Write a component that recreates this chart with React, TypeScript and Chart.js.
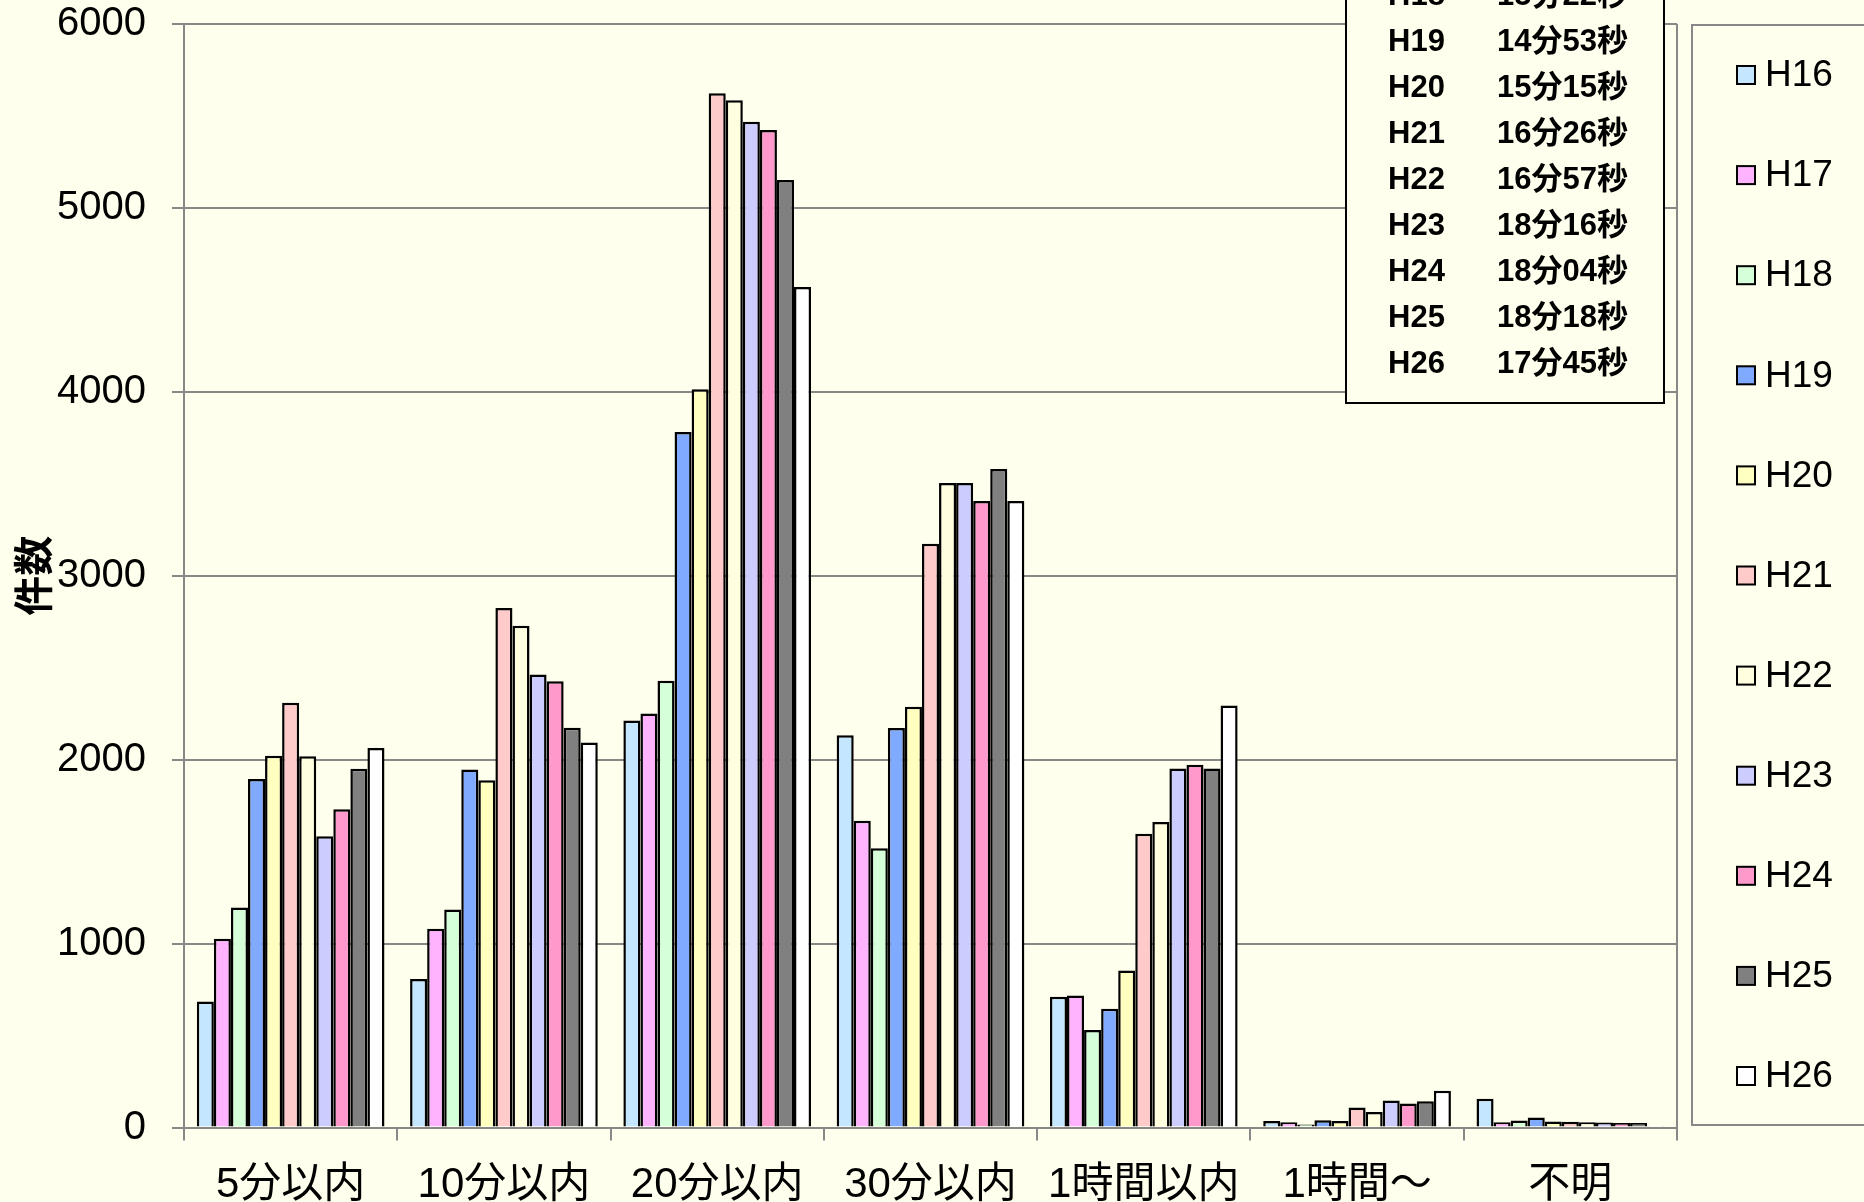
import React, { useEffect, useRef } from "react";
import { Chart, registerables } from "chart.js";

Chart.register(...registerables);

const categories = ["5分以内", "10分以内", "20分以内", "30分以内", "1時間以内", "1時間～", "不明"];

const seriesNames = ["H16", "H17", "H18", "H19", "H20", "H21", "H22", "H23", "H24", "H25", "H26"];
const seriesColors = ["#C4E6FF", "#FFB3FF", "#D4FFD8", "#80AAFF", "#FFFFC0", "#FFCACA", "#FFFFE0", "#CCCCFF", "#FF99CC", "#808080", "#FFFFFF"];

const h16 = [685, 807, 2213, 2133, 711, 36, 156];
const h17 = [1026, 1081, 2251, 1668, 718, 29, 29];
const h18 = [1196, 1185, 2429, 1519, 530, 16, 38];
const h19 = [1895, 1946, 3782, 2172, 646, 40, 54];
const h20 = [2021, 1888, 4014, 2288, 853, 36, 33];
const h21 = [2309, 2825, 5624, 3174, 1597, 109, 31];
const h22 = [2018, 2728, 5585, 3504, 1661, 84, 29];
const h23 = [1584, 2463, 5469, 3504, 1952, 147, 27];
const h24 = [1731, 2426, 5423, 3407, 1972, 131, 25];
const h25 = [1951, 2173, 5152, 3581, 1952, 143, 25];
const h26 = [2064, 2093, 4570, 3407, 2295, 200, 7];
const seriesValues = [h16, h17, h18, h19, h20, h21, h22, h23, h24, h25, h26];

const yTicks = [0, 1000, 2000, 3000, 4000, 5000, 6000];

const insetYears = ["H18", "H19", "H20", "H21", "H22", "H23", "H24", "H25", "H26"];
const insetTimes = ["15分22秒", "14分53秒", "15分15秒", "16分26秒", "16分57秒", "18分16秒", "18分04秒", "18分18秒", "17分45秒"];

const yTitle = "件数";

const BG = "#FFFFEE";
const GRID = "#888888";
const PLOT_TOP = 24;

export default function App() {
  const ref = useRef<HTMLCanvasElement | null>(null);

  useEffect(() => {
    if (!ref.current) return;
    const decor = {
      id: "decor",
      beforeDraw(chart: any) {
        const ctx = chart.ctx;
        ctx.save();
        ctx.fillStyle = BG;
        ctx.fillRect(0, 0, chart.width, chart.height);
        ctx.restore();
      },
      afterDraw(chart: any) {
        const ctx = chart.ctx;
        const a = chart.chartArea;
        ctx.save();
        ctx.strokeStyle = GRID;
        ctx.lineWidth = 2;
        ctx.beginPath();
        ctx.moveTo(a.right, a.top);
        ctx.lineTo(a.right, a.bottom);
        ctx.stroke();

        ctx.save();
        ctx.translate(33, (a.top + a.bottom) / 2);
        ctx.rotate(-Math.PI / 2);
        ctx.fillStyle = "#000";
        ctx.font = 'bold 40px "Noto Sans CJK JP"';
        ctx.textAlign = "center";
        ctx.textBaseline = "middle";
        ctx.fillText(yTitle, 0, 0);
        ctx.restore();

        const lx = 1692, ly = 25, lb = 1125;
        ctx.fillStyle = BG;
        ctx.fillRect(lx, ly, chart.width - lx + 10, lb - ly);
        ctx.strokeStyle = GRID;
        ctx.lineWidth = 2;
        ctx.strokeRect(lx, ly, chart.width - lx + 10, lb - ly);
        const ds = chart.data.datasets;
        for (let i = 0; i < ds.length; i++) {
          const cy = 75 + i * 100.1;
          ctx.fillStyle = ds[i].backgroundColor;
          ctx.fillRect(1737, cy - 9, 18, 18);
          ctx.strokeStyle = "#000";
          ctx.lineWidth = 2;
          ctx.strokeRect(1737, cy - 9, 18, 18);
          ctx.fillStyle = "#000";
          ctx.font = '37px "Liberation Sans", Arial';
          ctx.textAlign = "left";
          ctx.textBaseline = "middle";
          ctx.fillText(ds[i].label, 1765, cy + 1);
        }

        const bx = 1346, br = 1664, bb = 403;
        ctx.fillStyle = BG;
        ctx.fillRect(bx, -10, br - bx, bb + 10);
        ctx.strokeStyle = "#000";
        ctx.lineWidth = 2;
        ctx.strokeRect(bx, -10, br - bx, bb + 10);
        ctx.fillStyle = "#000";
        ctx.font = 'bold 31px "Liberation Sans", "Noto Sans CJK JP"';
        ctx.textBaseline = "middle";
        ctx.textAlign = "left";
        for (let i = 0; i < insetYears.length; i++) {
          const cy = -3.5 + i * 46;
          ctx.fillText(insetYears[i], 1388, cy);
          ctx.fillText(insetTimes[i], 1497, cy);
        }
        ctx.restore();
      },
    };

    const chart = new Chart(ref.current, {
      type: "bar",
      data: {
        labels: categories,
        datasets: seriesNames.map((n, i) => ({
          label: n,
          data: seriesValues[i],
          backgroundColor: seriesColors[i],
          borderColor: "#000000",
          borderWidth: 2.5,
          categoryPercentage: 0.88,
          barPercentage: 1.0,
        })),
      },
      options: {
        responsive: false,
        animation: false,
        devicePixelRatio: 1,
        layout: { padding: { left: 0, top: 0, right: 187, bottom: 0 } },
        plugins: { legend: { display: false }, tooltip: { enabled: false }, title: { display: false } },
        scales: {
          x: {
            grid: { drawOnChartArea: false, drawTicks: true, tickLength: 13, color: GRID, lineWidth: 2, offset: true },
            border: { display: true, color: GRID, width: 2 },
            ticks: {
              color: "#000",
              font: { size: 42, family: '"Liberation Sans", "Noto Sans CJK JP"' },
              padding: 20,
              maxRotation: 0,
              autoSkip: false,
            },
            afterFit: (s: any) => { s.height = 1202 - 1127.5; },
          },
          y: {
            min: 0,
            max: 6000,
            afterBuildTicks: (s: any) => { s.ticks = yTicks.map((v) => ({ value: v })); },
            grid: { color: GRID, lineWidth: 2, tickLength: 12, drawTicks: true },
            border: { display: true, color: GRID, width: 2 },
            ticks: {
              color: "#000",
              font: { size: 40, family: '"Liberation Sans", Arial' },
              padding: 26,
              callback: (v: any) => String(v),
            },
            afterFit: (s: any) => { s.width = 184; s.paddingTop = PLOT_TOP; },
          },
        },
      },
      plugins: [decor],
    });
    return () => chart.destroy();
  }, []);

  return (
    <div style={{ position: "absolute", left: 0, top: 0, width: 1864, height: 1202, overflow: "hidden" }}>
      <canvas ref={ref} width={1864} height={1202} style={{ display: "block" }} />
    </div>
  );
}
